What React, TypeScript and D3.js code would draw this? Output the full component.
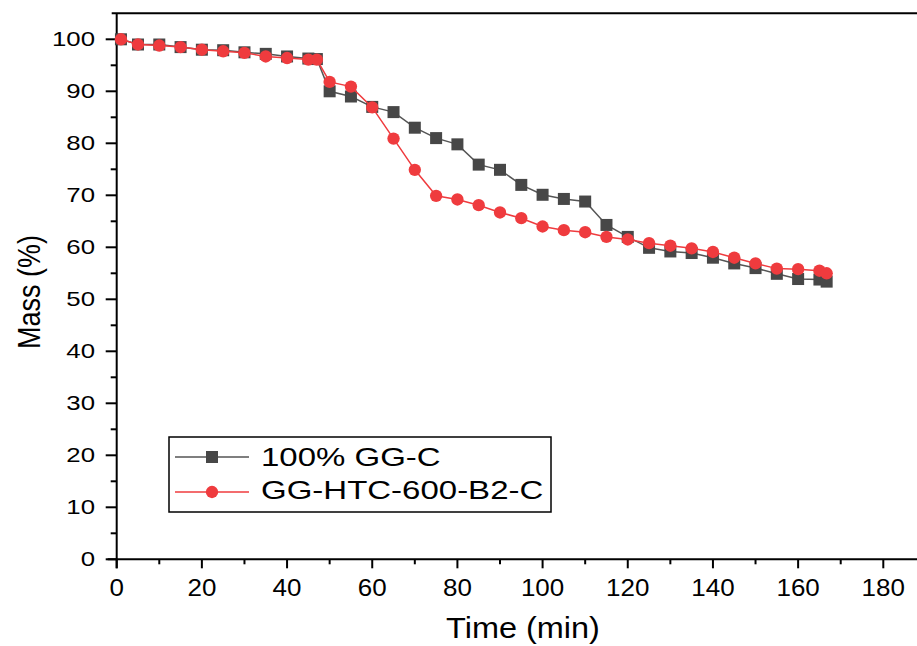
import React from "react";
import * as d3 from "d3";

const timeA = [1, 5, 10, 15, 20, 25, 30, 35, 40, 45, 47, 50, 55, 60, 65, 70, 75, 80, 85, 90, 95, 100, 105, 110, 115, 120, 125, 130, 135, 140, 145, 150, 155, 160, 165, 166.7];
const massA = [100, 99, 99, 98.5, 98, 97.9, 97.5, 97.2, 96.7, 96.3, 96.2, 90, 89, 87, 86, 83, 81, 79.8, 75.9, 74.9, 72, 70.1, 69.3, 68.8, 64.3, 62, 59.9, 59.2, 58.9, 58, 56.9, 56, 54.9, 53.9, 53.8, 53.4];
const timeB = [1, 5, 10, 15, 20, 25, 30, 35, 40, 45, 47, 50, 55, 60, 65, 70, 75, 80, 85, 90, 95, 100, 105, 110, 115, 120, 125, 130, 135, 140, 145, 150, 155, 160, 165, 166.7];
const massB = [100, 99, 98.8, 98.5, 98, 97.7, 97.4, 96.7, 96.4, 96.1, 96.1, 91.8, 90.9, 86.9, 80.9, 74.9, 69.9, 69.2, 68.1, 66.7, 65.6, 64, 63.3, 62.9, 62, 61.5, 60.8, 60.3, 59.8, 59.1, 58, 56.9, 55.9, 55.8, 55.5, 55];
const seriesNames = ["100% GG-C", "GG-HTC-600-B2-C"];
const xTicks = [0, 20, 40, 60, 80, 100, 120, 140, 160, 180];
const yTicks = [0, 10, 20, 30, 40, 50, 60, 70, 80, 90, 100];

const W = 917, H = 646;
const LEFT = 116.7, TOP = 13.3, BOTTOM = 559.3;
const FONT = "'Liberation Sans', Arial, sans-serif";
const BLACK = "#474747", RED = "#ef3b3e";

function SText({ x, y, sx, size, anchor, children }: { x: number; y: number; sx: number; size: number; anchor: string; children: React.ReactNode }) {
  return (
    <text transform={`translate(${x},${y}) scale(${sx},1)`} textAnchor={anchor} fontSize={size} fill="#000">
      {children}
    </text>
  );
}

export default function App() {
  const x = d3.scaleLinear().domain([0, 180]).range([LEFT, 883.3]);
  const y = d3.scaleLinear().domain([0, 100]).range([BOTTOM, 39.3]);
  const dataA = timeA.map((t, i) => [t, massA[i]] as [number, number]);
  const dataB = timeB.map((t, i) => [t, massB[i]] as [number, number]);
  const line = d3.line<[number, number]>().x(d => x(d[0])).y(d => y(d[1]));
  const xMinor = d3.range(10, 200, 20);
  const yMinor = d3.range(5, 100, 10);
  const circleSym = d3.symbol().type(d3.symbolCircle).size(120)();

  return (
    <svg width={W} height={H} style={{ position: "absolute", left: 0, top: 0, display: "block", background: "#fff" }} fontFamily={FONT}>
      {/* frame */}
      <line x1={LEFT - 5} x2={W + 5} y1={TOP} y2={TOP} stroke="#000" strokeWidth={2} />
      <line x1={LEFT} x2={LEFT} y1={TOP} y2={BOTTOM + 9} stroke="#000" strokeWidth={2} />
      <line x1={LEFT - 9} x2={W + 5} y1={BOTTOM} y2={BOTTOM} stroke="#000" strokeWidth={2} />
      {/* x ticks */}
      {xTicks.map(t => (
        <g key={"xt" + t}>
          <line x1={x(t)} x2={x(t)} y1={BOTTOM} y2={BOTTOM + 9} stroke="#000" strokeWidth={2} />
          <SText x={x(t)} y={BOTTOM + 37} sx={1.13} size={23} anchor="middle">{t}</SText>
        </g>
      ))}
      {xMinor.map(t => (
        <line key={"xm" + t} x1={x(t)} x2={x(t)} y1={BOTTOM} y2={BOTTOM + 5} stroke="#000" strokeWidth={2} />
      ))}
      {/* y ticks */}
      {yTicks.map(t => (
        <g key={"yt" + t}>
          <line x1={LEFT - 11} x2={LEFT} y1={y(t)} y2={y(t)} stroke="#000" strokeWidth={2} />
          <SText x={95} y={y(t) + 7} sx={1.29} size={20} anchor="end">{t}</SText>
        </g>
      ))}
      {yMinor.map(t => (
        <line key={"ym" + t} x1={LEFT - 6} x2={LEFT} y1={y(t)} y2={y(t)} stroke="#000" strokeWidth={2} />
      ))}
      {/* axis titles */}
      <SText x={523} y={638} sx={1.12} size={29} anchor="middle">Time (min)</SText>
      <text transform="translate(40,292) rotate(-90) scale(1,1.15)" textAnchor="middle" fontSize={27}>Mass (%)</text>
      {/* series A */}
      <path d={line(dataA) || ""} fill="none" stroke="#555" strokeWidth={1.5} />
      {dataA.map((d, i) => (
        <rect key={"a" + i} x={x(d[0]) - 6} y={y(d[1]) - 6} width={12} height={12} fill={BLACK} />
      ))}
      {/* series B */}
      <path d={line(dataB) || ""} fill="none" stroke={RED} strokeWidth={1.5} />
      {dataB.map((d, i) => (
        <path key={"b" + i} d={circleSym || ""} transform={`translate(${x(d[0])},${y(d[1])})`} fill={RED} />
      ))}
      {/* legend */}
      <rect x={169} y={437} width={382} height={75} fill="#fff" stroke="#000" strokeWidth={1.5} />
      <line x1={175} x2={249} y1={457} y2={457} stroke="#555" strokeWidth={1.5} />
      <rect x={206} y={451} width={12} height={12} fill={BLACK} />
      <SText x={261} y={466} sx={1.32} size={25} anchor="start">{seriesNames[0]}</SText>
      <line x1={175} x2={249} y1={492} y2={492} stroke={RED} strokeWidth={1.5} />
      <path d={circleSym || ""} transform="translate(212,492)" fill={RED} />
      <SText x={261} y={499} sx={1.32} size={25} anchor="start">{seriesNames[1]}</SText>
    </svg>
  );
}
